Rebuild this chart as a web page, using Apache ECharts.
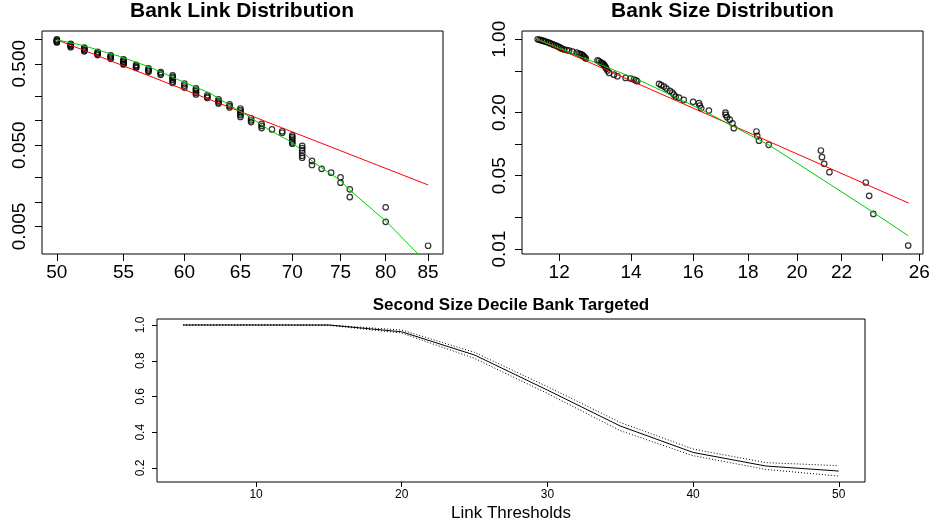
<!DOCTYPE html>
<html>
<head>
<meta charset="utf-8">
<title>Bank Link / Size Distribution</title>
<script src="https://cdn.jsdelivr.net/npm/echarts@6.0.0/dist/echarts.min.js"></script>
<style>
  html, body { margin: 0; padding: 0; background: #fff; }
  #main { width: 933px; height: 529px; }
</style>
</head>
<body>
<div id="main"></div>
<script>
// 连接数分布：每家银行 (连接数, 1-CDF)
var linkPts = [
  [50, 1.00], [50, 0.975], [50, 0.95], [50, 0.93], [50, 0.915],
  [51, 0.88], [51, 0.86], [51, 0.84], [51, 0.82], [51, 0.80],
  [52, 0.79], [52, 0.77], [52, 0.75], [52, 0.73], [52, 0.71],
  [53, 0.70], [53, 0.68], [53, 0.66], [53, 0.64],
  [54, 0.635], [54, 0.615], [54, 0.595], [54, 0.575],
  [55, 0.565], [55, 0.55], [55, 0.53], [55, 0.515], [55, 0.50], [55, 0.49],
  [56, 0.485], [56, 0.47], [56, 0.455], [56, 0.445],
  [57, 0.44], [57, 0.425], [57, 0.41], [57, 0.40],
  [58, 0.395], [58, 0.38], [58, 0.365],
  [59, 0.36], [59, 0.345], [59, 0.33], [59, 0.315], [59, 0.30], [59, 0.29],
  [60, 0.285], [60, 0.27], [60, 0.255],
  [61, 0.25], [61, 0.24], [61, 0.23], [61, 0.22], [61, 0.21],
  [62, 0.205], [62, 0.197], [62, 0.19],
  [63, 0.183], [63, 0.175], [63, 0.168], [63, 0.162],
  [64, 0.158], [64, 0.151], [64, 0.145],
  [65, 0.141], [65, 0.135], [65, 0.129], [65, 0.123], [65, 0.117], [65, 0.111],
  [66, 0.107], [66, 0.101], [66, 0.096],
  [67, 0.091], [67, 0.086], [67, 0.081],
  [68, 0.078],
  [69, 0.074], [69, 0.071],
  [70, 0.066], [70, 0.063], [70, 0.060], [70, 0.057], [70, 0.054], [70, 0.052],
  [71, 0.049], [71, 0.046], [71, 0.043], [71, 0.040], [71, 0.037], [71, 0.035],
  [72, 0.032], [72, 0.0285],
  [73, 0.0256],
  [74, 0.0229],
  [75, 0.0201], [75, 0.0173],
  [76, 0.0143], [76, 0.0115],
  [80, 0.0086], [80, 0.0057],
  [85, 0.0029]
];
var linkPowerFit = [[50, 0.985], [85, 0.0162]];
var linkCurveFit = [
  [50, 0.985], [51.91, 0.838], [54.71, 0.615], [57.10, 0.455], [59.60, 0.312],
  [62.21, 0.2185], [64.01, 0.1545], [65.87, 0.111], [67.77, 0.0763], [69.9, 0.0549],
  [70.91, 0.0434], [72.10, 0.0312], [74.90, 0.01865], [75.98, 0.01406],
  [80.07, 0.00575], [83.76, 0.00231], [85, 0.0017]
];
var linkXTicks = [50, 55, 60, 65, 70, 75, 80, 85];
var linkYTicks = [1, 0.5, 0.2, 0.1, 0.05, 0.02, 0.01, 0.005];
var linkYLabels = [0.5, 0.05, 0.005];

// 规模分布：每家银行 (规模, 1-CDF)
var sizePts = [
  [11.46, 1.000], [11.50, 0.990], [11.54, 0.980], [11.58, 0.970], [11.62, 0.960],
  [11.66, 0.948], [11.71, 0.936], [11.75, 0.922], [11.79, 0.909], [11.83, 0.896],
  [11.87, 0.883], [11.92, 0.870], [11.96, 0.858], [12.00, 0.843], [12.04, 0.827],
  [12.08, 0.812], [12.13, 0.797], [12.20, 0.788], [12.26, 0.780], [12.35, 0.763],
  [12.46, 0.746], [12.52, 0.730], [12.56, 0.722], [12.60, 0.714], [12.63, 0.699],
  [12.66, 0.684], [12.68, 0.670], [12.71, 0.655],
  [13.03, 0.631], [13.07, 0.618], [13.12, 0.604], [13.15, 0.593], [13.19, 0.582],
  [13.22, 0.567], [13.24, 0.553], [13.26, 0.539], [13.28, 0.525], [13.31, 0.503],
  [13.36, 0.478],
  [13.50, 0.460], [13.60, 0.444], [13.84, 0.428], [13.99, 0.422], [14.09, 0.413],
  [14.15, 0.405], [14.19, 0.398],
  [14.87, 0.376], [14.94, 0.365], [15.03, 0.354], [15.11, 0.339], [15.22, 0.322],
  [15.30, 0.310], [15.35, 0.297], [15.41, 0.284], [15.52, 0.278], [15.68, 0.264],
  [16.00, 0.253], [16.20, 0.246], [16.23, 0.233], [16.28, 0.220], [16.55, 0.209],
  [17.15, 0.200], [17.16, 0.190], [17.21, 0.181], [17.31, 0.171], [17.41, 0.158],
  [17.46, 0.142],
  [18.33, 0.132], [18.36, 0.120], [18.43, 0.108], [18.82, 0.0986],
  [21.05, 0.0870], [21.10, 0.0752], [21.20, 0.0650], [21.44, 0.0541],
  [23.18, 0.0431], [23.35, 0.0322], [23.56, 0.0216], [25.39, 0.0108]
];
var sizePowerFit = [[11.44, 1.0], [25.42, 0.0274]];
var sizeCurveFit = [
  [11.44, 1.0], [14.29, 0.403], [16.26, 0.2154], [18.84, 0.0978],
  [23.18, 0.0249], [25.39, 0.0134]
];
var sizeXTicks = [12, 14, 16, 18, 20, 22, 24, 26];
var sizeXLabels = [12, 14, 16, 18, 20, 22, 26];
var sizeYTicks = [1, 0.5, 0.2, 0.1, 0.05, 0.02, 0.01];
var sizeYLabels = [1, 0.2, 0.05, 0.01];

// 第二规模十分位银行被攻击
var thresholds = [5, 10, 15, 20, 25, 30, 35, 40, 45, 50];
var targeted   = [1.0, 1.0, 1.0, 0.962, 0.832, 0.636, 0.435, 0.287, 0.211, 0.183];
var targetedHi = [1.0, 1.0, 1.0, 0.972, 0.847, 0.655, 0.455, 0.306, 0.230, 0.213];
var targetedLo = [1.0, 1.0, 0.998, 0.955, 0.813, 0.617, 0.409, 0.269, 0.192, 0.155];
var threshTicks = [10, 20, 30, 40, 50];
var propTicks = [0.2, 0.4, 0.6, 0.8, 1.0];

var FONT = '"Liberation Sans", Arial, Helvetica, sans-serif';
var lg = Math.log10;

function toLog(arr) {
  return arr.map(function (p) { return [lg(p[0]), lg(p[1])]; });
}

function pair(xs, ys) {
  return xs.map(function (x, i) { return [x, ys[i]]; });
}

function axis(gi, min, max, ticks, labels, fmt, o) {
  return {
    gridIndex: gi,
    type: 'value',
    min: min,
    max: max,
    splitLine: { show: false },
    axisLine: { show: false, onZero: false },
    axisTick: { length: o.tick, lineStyle: { color: '#000', width: 1 }, customValues: ticks },
    axisLabel: {
      customValues: labels,
      formatter: fmt,
      rotate: o.rotate || 0,
      margin: o.margin,
      fontSize: o.size,
      fontFamily: FONT,
      color: '#000'
    }
  };
}

function pow10(d) {
  return function (v) {
    var r = Math.pow(10, v);
    return d === 0 ? String(Math.round(r)) : r.toFixed(d);
  };
}

function pts(data, gi) {
  return {
    type: 'scatter', xAxisIndex: gi, yAxisIndex: gi, data: data,
    symbol: 'circle', symbolSize: 5.5, z: 2, silent: true,
    itemStyle: { color: 'rgba(0,0,0,0)', borderColor: '#000', borderWidth: 1.2 }
  };
}

function fit(data, gi, color, type) {
  return {
    type: 'line', xAxisIndex: gi, yAxisIndex: gi, data: data,
    symbol: 'none', z: 3, silent: true, clip: true,
    lineStyle: { color: color, width: 1, type: type || 'solid' }
  };
}

function title(text, x, y, size, bold) {
  return {
    type: 'text', x: x, y: y, silent: true,
    style: {
      text: text, fill: '#000', fontSize: size, fontFamily: FONT,
      fontWeight: bold ? 'bold' : 'normal', align: 'center', verticalAlign: 'middle'
    }
  };
}

var box = { show: true, borderColor: '#000', borderWidth: 1, outerBoundsMode: 'none' };
var big = { tick: 7, size: 19, margin: 9 };

var chart = echarts.init(document.getElementById('main'), null, { renderer: 'canvas' });
chart.setOption({
  animation: false,
  backgroundColor: '#fff',
  grid: [
    Object.assign({ left: 42, top: 31, width: 401, height: 223 }, box),
    Object.assign({ left: 522, top: 31, width: 401, height: 223 }, box),
    Object.assign({ left: 157, top: 319, width: 708, height: 163 }, box)
  ],
  xAxis: [
    axis(0, lg(48.95), lg(86.83), linkXTicks.map(lg), linkXTicks.map(lg), pow10(0), big),
    axis(1, lg(11.08), lg(26.21), sizeXTicks.map(lg), sizeXLabels.map(lg), pow10(0), big),
    axis(2, 3.2, 51.8, threshTicks, threshTicks, function (v) { return String(v); },
      { tick: 5, size: 12, margin: 7 })
  ],
  yAxis: [
    axis(0, lg(0.002296), lg(1.2632), linkYTicks.map(lg), linkYLabels.map(lg), pow10(3),
      { tick: 7, size: 19, margin: 13, rotate: 90 }),
    axis(1, lg(0.00897), lg(1.199), sizeYTicks.map(lg), sizeYLabels.map(lg), pow10(2),
      { tick: 7, size: 19, margin: 12.5, rotate: 90 }),
    axis(2, 0.1217, 1.0336, propTicks, propTicks, function (v) { return v.toFixed(1); },
      { tick: 5, size: 12, margin: 10, rotate: 90 })
  ],
  graphic: [
    title('Bank Link Distribution', 242, 11.5, 21, true),
    title('Bank Size Distribution', 722.5, 11.5, 21, true),
    title('Second Size Decile Bank Targeted', 511, 305.8, 17, true),
    title('Link Thresholds', 511, 513, 17, false)
  ],
  series: [
    pts(toLog(linkPts), 0),
    fit(toLog(linkPowerFit), 0, '#ff0000'),
    fit(toLog(linkCurveFit), 0, '#00cd00'),
    pts(toLog(sizePts), 1),
    fit(toLog(sizePowerFit), 1, '#ff0000'),
    fit(toLog(sizeCurveFit), 1, '#00cd00'),
    fit(pair(thresholds, targetedHi), 2, '#000', [1, 2]),
    fit(pair(thresholds, targetedLo), 2, '#000', [1, 2]),
    fit(pair(thresholds, targeted), 2, '#000')
  ]
});
</script>
</body>
</html>
